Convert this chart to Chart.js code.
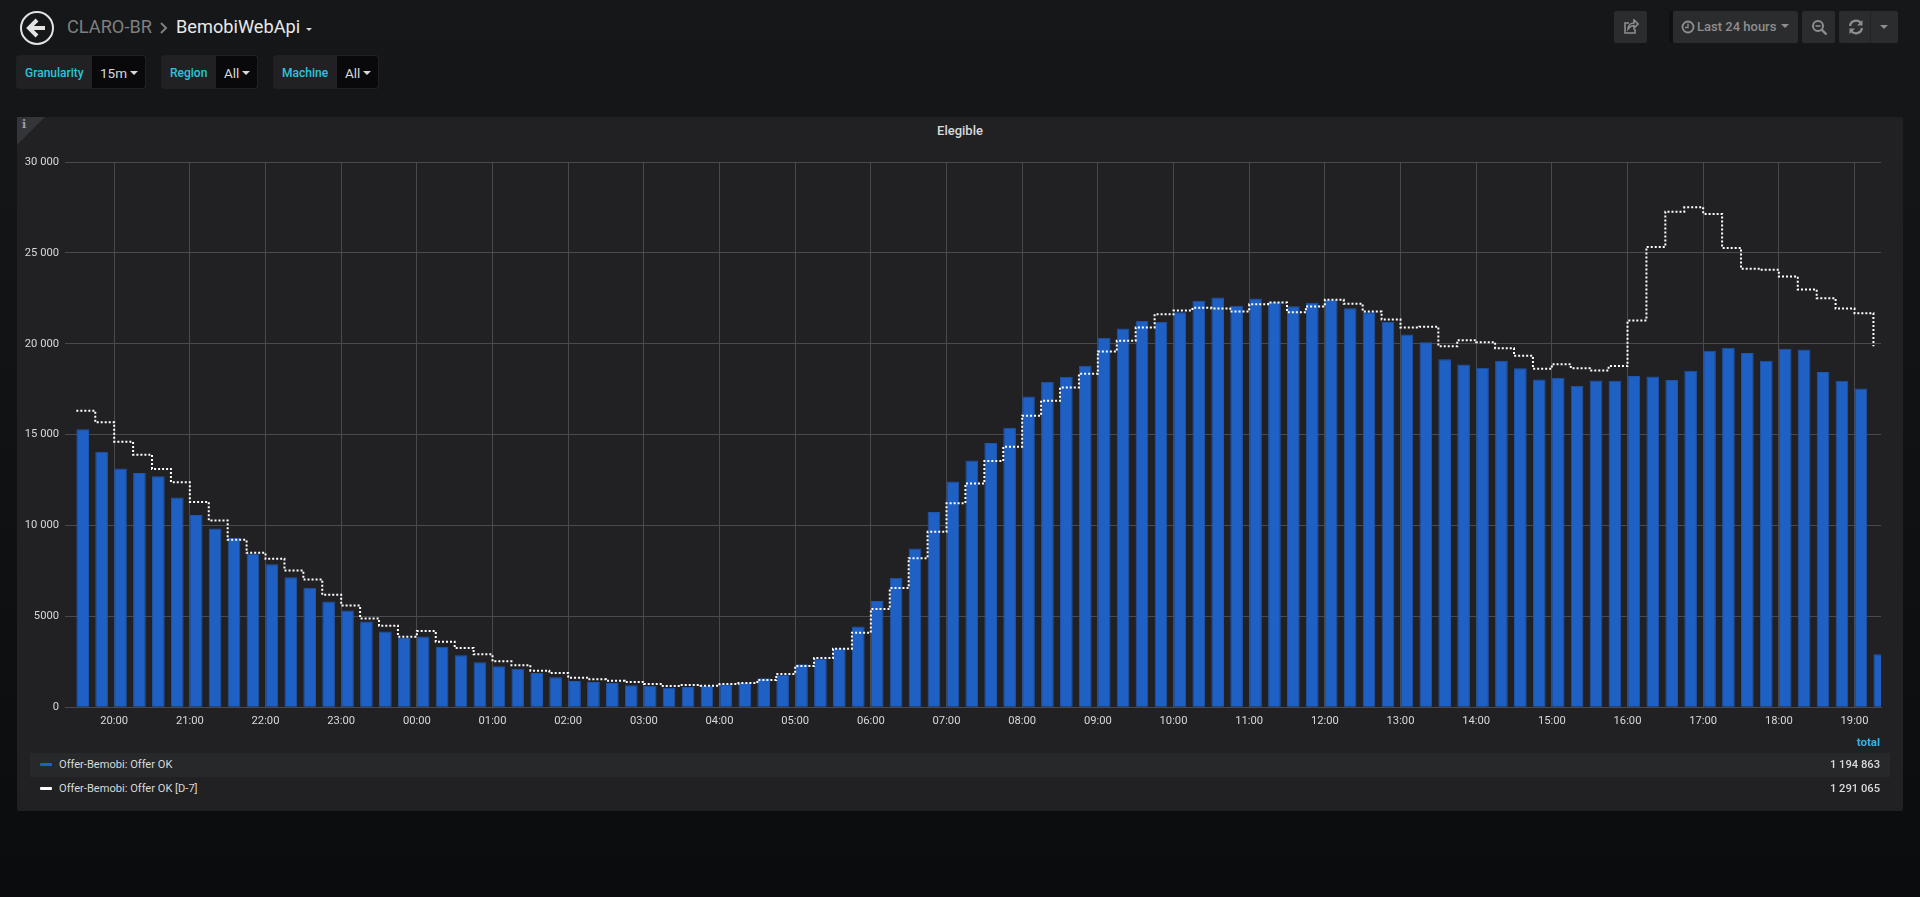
<!DOCTYPE html>
<html lang="en">
<head>
<meta charset="UTF-8" />
<title>BemobiWebApi - Grafana</title>
<script src="https://cdn.jsdelivr.net/npm/chart.js@4"></script>
<style>
  html, body { margin: 0; padding: 0; }
  body {
    width: 1920px; height: 897px; overflow: hidden; position: relative;
    background: linear-gradient(#161719, #0b0c0e);
    font-family: Roboto, sans-serif; color: #d8d9da;
  }
  .abs { position: absolute; white-space: nowrap; }
  /* header */
  .crumb { top: 14px; font-size: 18.2px; line-height: 26px; }
  .caret { width: 0; height: 0; border-left: 4px solid transparent; border-right: 4px solid transparent; border-top: 4px solid #d8d9da; }
  /* template variables */
  .var { top: 55px; height: 34px; border-radius: 3px; background: #212124; box-sizing: border-box; border: 1px solid #1f2022; }
  .var .name { position: absolute; top: 0; line-height: 34px; font-size: 12px; font-weight: 500; color: #2cc4dc; left: 8px; }
  .var .val { position: absolute; top: 0; right: 0; height: 32px; background: #09090b; border-radius: 0 3px 3px 0; }
  .var .val span { position: absolute; left: 8px; line-height: 34px; font-size: 13.5px; color: #d8d9da; }
  .var .val i { position: absolute; top: 15px; right: 7px; }
  /* top right buttons */
  .btn { top: 11px; height: 32px; background: #2b2c2e; border-radius: 2px; color: #8e8e8e; }
  .btn svg { position: absolute; }
  /* panel */
  #panel { left: 17px; top: 117px; width: 1886px; height: 694px; background: #212124; border-radius: 2px; }
  #corner { left: 17px; top: 117px; width: 0; height: 0; border-top: 28px solid #343538; border-right: 28px solid transparent; }
  #chart { position: absolute; left: 17px; top: 140px; }
  .row { left: 30px; width: 1860px; height: 24px; line-height: 24px; font-size: 11.1px; }
  .row .mark { position: absolute; left: 10px; top: 10px; width: 12px; height: 3px; border-radius: 1px; }
  .row .lbl { position: absolute; left: 29px; }
  .row .tot { position: absolute; right: 10px; font-size: 11.2px; font-weight: 500; }
</style>
</head>
<body>

<!-- header -->
<svg class="abs" style="left:18px;top:9px" width="38" height="38" viewBox="0 0 38 38">
  <circle cx="19" cy="19" r="16" fill="none" stroke="#e3e3e3" stroke-width="2"/>
  <path d="M19 11 L11 19 L19 27 M11.5 19 H27" fill="none" stroke="#e3e3e3" stroke-width="4"/>
</svg>
<div class="abs crumb" style="left:67px;color:#7f7f80">CLARO-BR</div>
<svg class="abs" style="left:159px;top:21px" width="10" height="14"><path d="M2 2 L7 7 L2 12" fill="none" stroke="#7f7f80" stroke-width="2"/></svg>
<div class="abs crumb" style="left:176px;color:#e9e9e9">BemobiWebApi</div>
<div class="abs caret" style="left:306px;top:28px;border-left-width:3px;border-right-width:3px;border-top-width:3px"></div>

<div class="abs var" style="left:16px;width:130px"><div class="name">Granularity</div><div class="val" style="width:53px"><span>15m</span><i class="caret"></i></div></div>
<div class="abs var" style="left:161px;width:97px"><div class="name">Region</div><div class="val" style="width:41px"><span>All</span><i class="caret"></i></div></div>
<div class="abs var" style="left:273px;width:106px"><div class="name">Machine</div><div class="val" style="width:41px"><span>All</span><i class="caret"></i></div></div>

<div class="abs btn" style="left:1614px;width:33px">
  <svg style="left:9px;top:8px" width="16" height="16" viewBox="0 0 16 16"><path d="M12 10 V14 H2 V4 H6 M5 10 C5 6 8 4 11 4 V1 L15 5 L11 9 V6.5 C8 6.5 6.5 8 5 10 Z" fill="none" stroke="#8e8e8e" stroke-width="1.6"/></svg>
</div>
<div class="abs" style="left:1669px;top:11px;width:4px;height:32px;background:#0f1012"></div>
<div class="abs btn" style="left:1673px;width:125px;font-size:13px;font-weight:500;line-height:32px">
  <svg style="left:8px;top:9px" width="14" height="14" viewBox="0 0 14 14"><circle cx="7" cy="7" r="5.5" fill="none" stroke="#8e8e8e" stroke-width="1.8"/><path d="M7 3.5 V7.5 H4" fill="none" stroke="#8e8e8e" stroke-width="1.4"/></svg>
  <span style="position:absolute;left:24px">Last 24 hours</span>
  <div class="caret" style="position:absolute;right:9px;top:13px;border-top-color:#8e8e8e;border-left-width:4px;border-right-width:4px"></div>
</div>
<div class="abs btn" style="left:1802px;width:33px">
  <svg style="left:9px;top:8px" width="17" height="17" viewBox="0 0 17 17"><circle cx="7" cy="7" r="5" fill="none" stroke="#8e8e8e" stroke-width="2"/><path d="M4.5 7 H9.5" stroke="#8e8e8e" stroke-width="1.6"/><path d="M10.5 10.5 L15.5 15.5" stroke="#8e8e8e" stroke-width="2.4"/></svg>
</div>
<div class="abs btn" style="left:1839px;width:59px">
  <svg style="left:9px;top:8px" width="16" height="16" viewBox="0 0 16 16"><path d="M2 7 A6 6 0 0 1 13 4.5 M14 9 A6 6 0 0 1 3 11.5" fill="none" stroke="#8e8e8e" stroke-width="2.2"/><path d="M14.5 1 V6.5 H9 Z M1.5 15 V9.5 H7 Z" fill="#8e8e8e"/></svg>
  <div style="position:absolute;left:31px;top:0;width:1px;height:32px;background:#232426"></div>
  <div class="caret" style="position:absolute;left:41px;top:14px;border-top-color:#8e8e8e"></div>
</div>

<!-- panel -->
<div id="panel" class="abs"></div>
<div id="corner" class="abs"></div>
<div class="abs" style="left:22px;top:118px;font:bold 11px 'DejaVu Serif',serif;color:#9fa0a2">i</div>
<div class="abs" style="left:17px;width:1886px;top:123px;text-align:center;font-size:13px;font-weight:500;line-height:16px;color:#d8d9da">Elegible</div>
<canvas id="chart" width="1886" height="597"></canvas>

<div class="abs" style="right:40px;top:735px;font-size:11.5px;font-weight:700;color:#33b5e5">total</div>
<div class="abs row" style="top:753px;background:#27282a">
  <div class="mark" style="background:#1f60c4"></div><div class="lbl" id="legend0"></div><div class="tot">1 194 863</div>
</div>
<div class="abs row" style="top:777px">
  <div class="mark" style="background:#ffffff"></div><div class="lbl" id="legend1"></div><div class="tot">1 291 065</div>
</div>

<script>
// 15m slots of the last 24h, oldest first
const slotLabels = [
  '19:30','19:45','20:00','20:15','20:30','20:45','21:00','21:15','21:30','21:45','22:00','22:15',
  '22:30','22:45','23:00','23:15','23:30','23:45','00:00','00:15','00:30','00:45','01:00','01:15',
  '01:30','01:45','02:00','02:15','02:30','02:45','03:00','03:15','03:30','03:45','04:00','04:15',
  '04:30','04:45','05:00','05:15','05:30','05:45','06:00','06:15','06:30','06:45','07:00','07:15',
  '07:30','07:45','08:00','08:15','08:30','08:45','09:00','09:15','09:30','09:45','10:00','10:15',
  '10:30','10:45','11:00','11:15','11:30','11:45','12:00','12:15','12:30','12:45','13:00','13:15',
  '13:30','13:45','14:00','14:15','14:30','14:45','15:00','15:15','15:30','15:45','16:00','16:15',
  '16:30','16:45','17:00','17:15','17:30','17:45','18:00','18:15','18:30','18:45','19:00','19:15'
];

const offerOk = [
  15293,14066,13132,12894,12711,11538,10586,9835,9322,8462,7875,7161,
  6575,5824,5330,4725,4176,3810,3901,3333,2857,2473,2253,2125,
  1886,1648,1447,1392,1337,1209,1190,1080,1117,1172,1264,1337,
  1593,1795,2363,2674,3242,4451,5842,7125,8736,10751,12418,13571,
  14542,15383,17104,17911,18186,18790,20329,20840,21263,21209,21736,22362,
  22545,22088,22489,22307,22066,22252,22417,21956,21736,21209,20511,20088,
  19154,18862,18681,19066,18659,18038,18130,17692,17984,17966,18222,18203,
  18002,18515,19616,19780,19487,19066,19725,19688,18441,17966,17545,2912
];

const offerOkD7 = [
  16319,15678,14615,13901,13114,12381,11300,10275,9212,8498,8168,7527,
  7033,6190,5604,4890,4487,3883,4194,3608,3260,2912,2527,2308,
  2015,1886,1630,1538,1465,1392,1282,1172,1227,1190,1282,1337,
  1502,1832,2271,2711,3223,4103,5403,6557,8205,9652,11227,12308,
  13553,14341,16044,16868,17599,18351,19577,20165,20896,21626,21830,21978,
  21940,21775,22176,22269,21736,22050,22417,22197,21775,21335,20896,20934,
  19868,20198,20088,19758,19341,18626,18879,18659,18533,18771,21280,25330,
  27269,27505,27143,25275,24121,24066,23697,22984,22505,21940,21681,19868
];

const hourLabels = ['20:00','21:00','22:00','23:00','00:00','01:00','02:00','03:00','04:00','05:00','06:00','07:00',
  '08:00','09:00','10:00','11:00','12:00','13:00','14:00','15:00','16:00','17:00','18:00','19:00'];
const yTickValues = [0, 5000, 10000, 15000, 20000, 25000, 30000];
const yTickLabels = ['0', '5000', '10 000', '15 000', '20 000', '25 000', '30 000'];
const seriesNames = ['Offer-Bemobi: Offer OK', 'Offer-Bemobi: Offer OK [D-7]'];

document.getElementById('legend0').textContent = seriesNames[0];
document.getElementById('legend1').textContent = seriesNames[1];

// minutes since the first midnight, times before 19:30 belong to the next day
function toMinutes(label) {
  const [h, m] = label.split(':').map(Number);
  const v = h * 60 + m;
  return v < 1170 ? v + 1440 : v;
}

const barShare = 0.67;
const slotMinutes = 15;
const windowStart = 1161;

new Chart(document.getElementById('chart').getContext('2d'), {
  type: 'bar',
  data: {
    datasets: [
      {
        type: 'line',
        label: seriesNames[1],
        data: slotLabels.map((s, i) => ({ x: toMinutes(s), y: offerOkD7[i] })),
        borderColor: '#ffffff',
        borderWidth: 2,
        borderDash: [2, 2],
        stepped: 'before',
        pointRadius: 0,
        fill: false,
        order: 1
      },
      {
        label: seriesNames[0],
        // grafana draws the bar to the right of its timestamp, chart.js centers it
        data: slotLabels.map((s, i) => ({ x: toMinutes(s) + barShare * slotMinutes / 2, y: offerOk[i] })),
        backgroundColor: '#1f60c4',
        borderColor: '#2055a9',
        borderWidth: { top: 1, left: 1, right: 1, bottom: 0 },
        barPercentage: barShare,
        categoryPercentage: 1,
        clip: 0,
        order: 2
      }
    ]
  },
  options: {
    responsive: false,
    animation: false,
    layout: { padding: { top: 22, right: 22, left: 0, bottom: 0 } },
    plugins: { legend: { display: false }, tooltip: { enabled: false } },
    scales: {
      x: {
        type: 'linear',
        offset: false,
        min: windowStart,
        max: windowStart + 1440,
        afterBuildTicks: s => { s.ticks = hourLabels.map(l => ({ value: toMinutes(l) })); },
        afterFit: s => { s.height = 29.7; },
        grid: { color: '#4a4a4c', lineWidth: 1, offset: false, drawTicks: false },
        border: { color: '#4a4a4c' },
        ticks: {
          autoSkip: false,
          maxRotation: 0,
          padding: 7,
          color: '#d8d9da',
          font: { family: 'Roboto', size: 11.2 },
          callback: (v, i) => hourLabels[i]
        }
      },
      y: {
        min: 0,
        max: 30000,
        afterBuildTicks: s => { s.ticks = yTickValues.map(v => ({ value: v })); },
        afterFit: s => { s.width = 48; },
        grid: { color: '#4a4a4c', lineWidth: 1, drawTicks: false },
        border: { display: false },
        ticks: {
          padding: 6,
          color: '#d8d9da',
          font: { family: 'Roboto', size: 11.2 },
          callback: (v, i) => yTickLabels[i]
        }
      }
    }
  }
});
</script>
</body>
</html>
